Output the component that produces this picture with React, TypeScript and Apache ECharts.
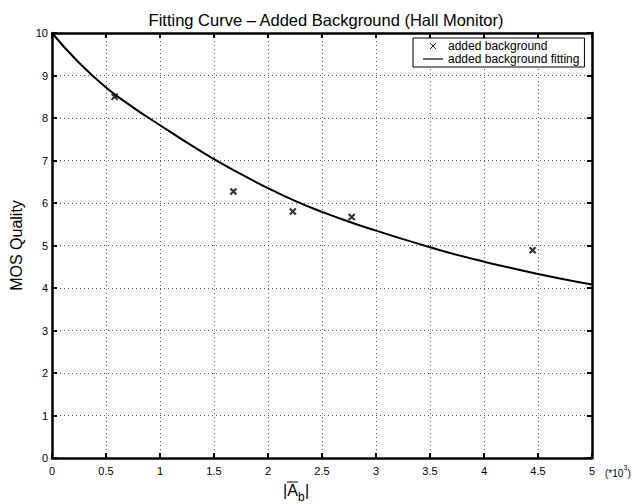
import React, { useEffect, useRef } from 'react';
import * as echarts from 'echarts';

// Fitted curve at regular x steps (x in units of 10^3)
const curveX = [0, 0.25, 0.5, 0.75, 1, 1.25, 1.5, 1.75, 2, 2.25, 2.5, 2.75, 3, 3.25, 3.5, 3.75, 4, 4.25, 4.5, 4.75, 5];
const curveY = [10.0, 9.3, 8.72, 8.25, 7.83, 7.42, 7.03, 6.68, 6.35, 6.05, 5.79, 5.56, 5.35, 5.15, 4.96, 4.78, 4.62, 4.47, 4.33, 4.2, 4.08];

// Measured points ("added background")
const pointsX = [0.58, 1.68, 2.23, 2.775, 4.45];
const pointsY = [8.5, 6.27, 5.8, 5.67, 4.89];

const titleText = 'Fitting Curve \u2013 Added Background (Hall Monitor)';
const yAxisName = 'MOS Quality';
const seriesNames = ['added background', 'added background fitting'];

const FONT = '"Liberation Sans", Arial, Helvetica, sans-serif';
const CROSS = 'path://M0 0L10 10M10 0L0 10';

export default function App() {
  const ref = useRef<HTMLDivElement>(null);
  useEffect(() => {
    document.body.style.margin = '0';
    const chart = echarts.init(ref.current!, null, { renderer: 'svg' });
    const axisLine = { show: true, onZero: false, lineStyle: { color: '#000', width: 2.5 } };
    const axisTick = { show: true, inside: true, length: 5, lineStyle: { color: '#000', width: 2 } };
    const splitLine = { show: true, lineStyle: { color: '#555', width: 1, type: [1, 3] as any } };
    chart.setOption({
      animation: false,
      backgroundColor: '#fff',
      textStyle: { fontFamily: FONT, color: '#000' },
      grid: { left: 51, right: 42, top: 33, bottom: 46, containLabel: false },
      legend: {
        left: 413,
        top: 38,
        orient: 'vertical',
        backgroundColor: '#fff',
        borderColor: '#000',
        borderWidth: 1,
        borderRadius: 0,
        padding: [2, 5, 2, 10],
        itemGap: 1,
        itemWidth: 20,
        itemHeight: 6,
        textStyle: { fontSize: 12, color: '#000', fontFamily: FONT },
        data: [
          { name: seriesNames[0], icon: CROSS, itemStyle: { color: 'none', borderColor: '#000', borderWidth: 1 } },
          { name: seriesNames[1], icon: 'path://M0 0H20V1.2H0Z', itemStyle: { color: '#000', borderWidth: 0 } },
        ],
      },
      xAxis: [
        {
          type: 'value', min: 0, max: 5, interval: 0.5,
          axisLine, axisTick, splitLine,
          axisLabel: { color: '#000', fontSize: 11, margin: 7, fontFamily: FONT },
        },
        {
          type: 'value', position: 'top', min: 0, max: 5, interval: 0.5,
          axisLine, axisTick, splitLine: { show: false }, axisLabel: { show: false },
        },
      ],
      yAxis: [
        {
          type: 'value', min: 0, max: 10, interval: 1,
          axisLine, axisTick, splitLine,
          axisLabel: { color: '#000', fontSize: 11, margin: 4, fontFamily: FONT },
          name: yAxisName, nameLocation: 'middle', nameGap: 28,
          nameTextStyle: { fontSize: 16, color: '#000', fontFamily: FONT },
        },
        {
          type: 'value', position: 'right', min: 0, max: 10, interval: 1,
          axisLine, axisTick, splitLine: { show: false }, axisLabel: { show: false },
        },
      ],
      series: [
        {
          name: seriesNames[0],
          type: 'scatter',
          data: pointsX.map((x, i) => [x, pointsY[i]]),
          symbol: CROSS,
          symbolSize: 6,
          itemStyle: { color: 'none', borderColor: '#000', borderWidth: 2.2 },
          z: 5,
        },
        {
          name: seriesNames[1],
          type: 'line',
          data: curveX.map((x, i) => [x, curveY[i]]),
          smooth: true,
          symbol: 'none',
          lineStyle: { color: '#000', width: 2 },
          itemStyle: { color: '#000' },
          z: 4,
        },
      ],
      graphic: [
        {
          type: 'text', x: 326, y: 20,
          style: { text: titleText, fontSize: 16.5, fontFamily: FONT, fill: '#000', textAlign: 'center', textVerticalAlign: 'middle' },
        },
        {
          type: 'group',
          children: [
            { type: 'text', x: 283, y: 490, style: { text: '|A', fontSize: 16, fontFamily: FONT, fill: '#000', textVerticalAlign: 'middle' } },
            { type: 'text', x: 298, y: 497, style: { text: 'b', fontSize: 12, fontFamily: FONT, fill: '#000', textVerticalAlign: 'middle' } },
            { type: 'text', x: 305, y: 490, style: { text: '|', fontSize: 16, fontFamily: FONT, fill: '#000', textVerticalAlign: 'middle' } },
            { type: 'line', shape: { x1: 287, y1: 482, x2: 298, y2: 482 }, style: { stroke: '#000', lineWidth: 1 } },
          ],
        },
        {
          type: 'group',
          children: [
            { type: 'text', x: 605, y: 473, style: { text: '(*10', fontSize: 10, fontFamily: FONT, fill: '#000', textVerticalAlign: 'middle' } },
            { type: 'text', x: 623.5, y: 467, style: { text: '3', fontSize: 7, fontFamily: FONT, fill: '#000', textVerticalAlign: 'middle' } },
            { type: 'text', x: 627.5, y: 473, style: { text: ')', fontSize: 10, fontFamily: FONT, fill: '#000', textVerticalAlign: 'middle' } },
          ],
        },
      ],
    });
    return () => chart.dispose();
  }, []);
  return <div ref={ref} style={{ width: 634, height: 504, background: '#fff' }} />;
}
